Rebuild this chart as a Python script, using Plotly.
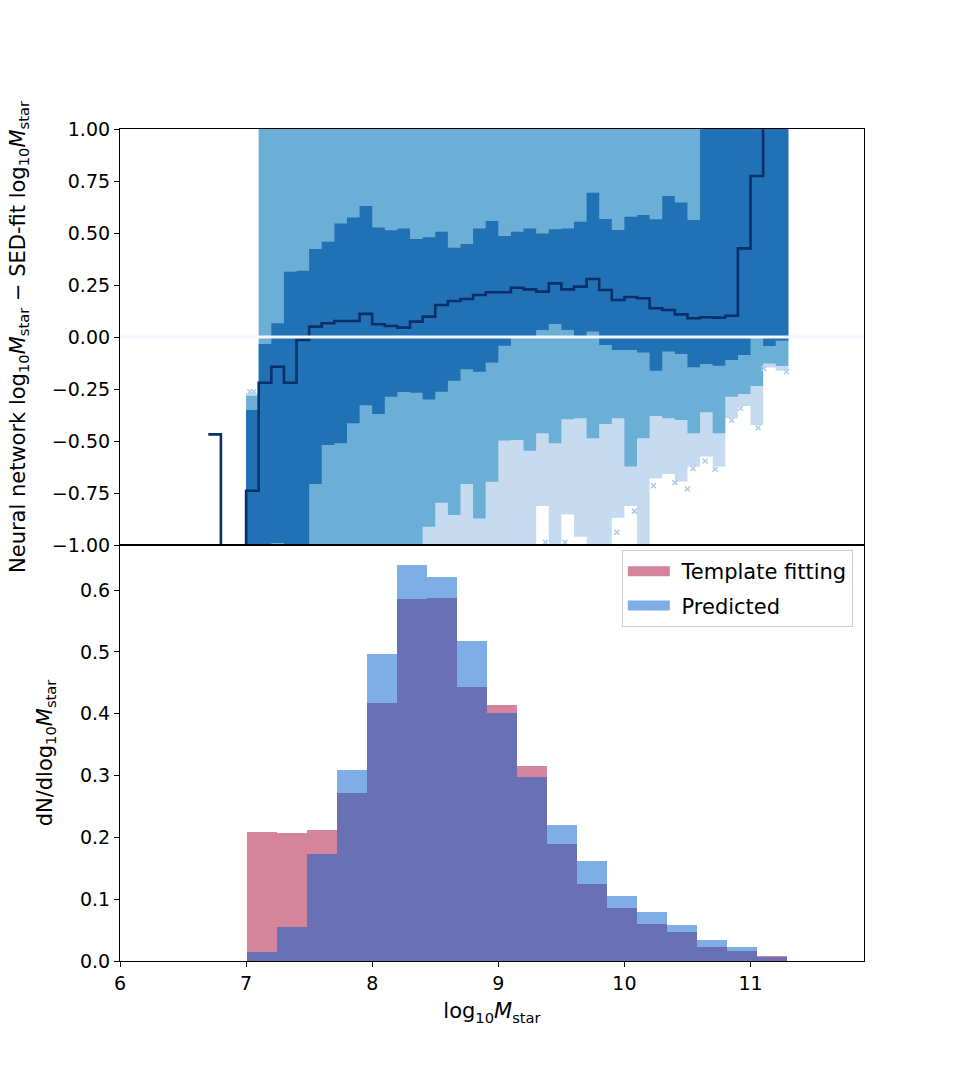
import numpy as np
import plotly.graph_objects as go

# ---------------- data: top panel (residual percentiles per 0.1-dex bin) ----------------
bin_left = [6.7, 6.8, 6.9, 7.0, 7.1, 7.2, 7.3, 7.4, 7.5, 7.6, 7.7, 7.8, 7.9,
            8.0, 8.1, 8.2, 8.3, 8.4, 8.5, 8.6, 8.7, 8.8, 8.9,
            9.0, 9.1, 9.2, 9.3, 9.4, 9.5, 9.6, 9.7, 9.8, 9.9,
            10.0, 10.1, 10.2, 10.3, 10.4, 10.5, 10.6, 10.7, 10.8, 10.9,
            11.0, 11.1, 11.2]
bin_width = 0.1
nan = float("nan")

median = [-0.468, -1.5, -1.5, -0.739, -0.22, -0.143, -0.22, -0.014, 0.050, 0.066, 0.077, 0.077, 0.111,
          0.061, 0.053, 0.045, 0.074, 0.098, 0.154, 0.173, 0.183, 0.202, 0.215,
          0.215, 0.237, 0.229, 0.218, 0.258, 0.229, 0.242, 0.279, 0.226, 0.178,
          0.192, 0.186, 0.138, 0.130, 0.109, 0.090, 0.095, 0.093, 0.102, 0.426,
          0.774, 1.5, 1.5]

# 68% interval
p16 = [nan, nan, nan, -1.5, -1.5, -0.99, -1.5, -1.5, -0.707, -0.519, -0.511, -0.415, -0.328,
       -0.370, -0.287, -0.264, -0.268, -0.300, -0.263, -0.210, -0.155, -0.167, -0.122,
       -0.042, -0.003, -0.003, 0.034, 0.063, 0.034, 0.000, 0.026, -0.038, -0.0625,
       -0.0625, -0.075, -0.162, -0.070, -0.082, -0.146, -0.130, -0.138, -0.111, -0.087,
       -0.003, -0.043, -0.018]
p84 = [nan, nan, nan, -0.351, -0.034, 0.066, 0.314, 0.319, 0.423, 0.458, 0.546, 0.575, 0.630,
       0.527, 0.513, 0.522, 0.471, 0.479, 0.506, 0.429, 0.447, 0.522, 0.558,
       0.486, 0.506, 0.522, 0.498, 0.518, 0.522, 0.554, 0.694, 0.567, 0.514,
       0.578, 0.587, 0.566, 0.678, 0.647, 0.562, 1.5, 1.5, 1.5, 1.5,
       1.5, 1.5, 1.5]

# 95% interval
p025 = [nan, nan, nan, -1.5, -1.5, -1.5, -1.5, -1.5, -1.5, -1.5, -1.5, -1.5, -1.5,
        -1.5, -1.5, -1.5, -1.5, -0.912, -0.797, -0.856, -0.707, -0.872, -0.696,
        -0.498, -0.495, -0.547, -0.463, -0.511, -0.396, -0.391, -0.487, -0.418, -0.391,
        -0.623, -0.487, -0.380, -0.391, -0.399, -0.463, -0.362, -0.463, -0.287, -0.274,
        -0.236, -0.127, -0.139]
p975 = [nan, nan, nan, -0.282] + [1.5] * 42

# 99% interval
p005 = [nan, nan, nan, -1.5, -1.5, -1.5, -1.5, -1.5, -1.5, -1.5, -1.5, -1.5, -1.5,
        -1.5, -1.5, -1.5, -1.5, -1.5, -1.5, -1.5, -1.5, -1.5, -1.5,
        -1.5, -1.5, -1.5, -0.812, -1.5, -0.853, -0.96, -1.5, -1.5, -0.869,
        -0.812, -1.5, -0.68, -0.659, -0.695, -0.623, -0.575, -0.623, -0.391, -0.332,
        -0.423, -0.147, -0.162]
p995 = [nan, nan, nan, -0.27] + [1.5] * 42

# outliers
out_x = [7.03, 7.06, 9.373, 9.53, 9.94, 10.08, 10.23, 10.40, 10.50, 10.545, 10.64,
         10.72, 10.85, 10.92, 11.06, 11.105, 11.285]
out_y = [-0.263, -0.263, -0.987, -0.987, -0.939, -0.837, -0.715, -0.70, -0.731, -0.631,
         -0.596, -0.636, -0.40, -0.343, -0.436, -0.151, -0.167]

# ---------------- data: bottom panel (histograms) ----------------
hist_lo, hist_hi, hist_nbins = 7.01, 11.29, 18
template_fitting = [0.209, 0.2075, 0.212, 0.2717, 0.4167, 0.5855, 0.5866, 0.4437, 0.414,
                    0.3154, 0.1887, 0.124, 0.0852, 0.0604, 0.0474, 0.0232, 0.0162, 0.0081]
predicted = [0.014, 0.0545, 0.1736, 0.309, 0.496, 0.6405, 0.621, 0.5175, 0.4005,
             0.2976, 0.22, 0.1617, 0.1056, 0.0792, 0.0577, 0.034, 0.0221, 0.006]

top_yticks = [1.0, 0.75, 0.5, 0.25, 0.0, -0.25, -0.5, -0.75, -1.0]

# ---------------- helpers ----------------
FONT = "DejaVu Sans"
TICK_FS = 19
TITLE_FS = 21
LEG_FS = 21


def band_polygons(lo, hi):
    """Return x, y lists (runs separated by None) tracing step-shaped bands."""
    left = np.array(bin_left)
    lo = np.array(lo, dtype=float)
    hi = np.array(hi, dtype=float)
    valid = np.isfinite(lo) & np.isfinite(hi)
    xs, ys = [], []
    i = 0
    n = len(left)
    while i < n:
        if not valid[i]:
            i += 1
            continue
        j = i
        while j + 1 < n and valid[j + 1]:
            j += 1
        idx = list(range(i, j + 1))
        px, py = [], []
        for k in idx:
            px += [left[k], left[k] + bin_width]
            py += [hi[k], hi[k]]
        for k in reversed(idx):
            px += [left[k] + bin_width, left[k]]
            py += [lo[k], lo[k]]
        px.append(px[0])
        py.append(py[0])
        if xs:
            xs.append(None)
            ys.append(None)
        xs += list(px)
        ys += list(py)
        i = j + 1
    return xs, ys


fig = go.Figure()

band_specs = [(p005, p995, "#c6dbef"), (p025, p975, "#6baed6"), (p16, p84, "#2171b5")]
for lo, hi, col in band_specs:
    bx, by = band_polygons(lo, hi)
    fig.add_trace(go.Scatter(x=bx, y=by, mode="lines", fill="toself", fillcolor=col,
                             line=dict(width=0, color=col, simplify=False),
                             hoverinfo="skip", showlegend=False, xaxis="x", yaxis="y"))

# median step line
med_x = list(bin_left) + [bin_left[-1] + bin_width]
med_y = list(median) + [median[-1]]
fig.add_trace(go.Scatter(x=med_x, y=med_y, mode="lines",
                         line=dict(color="#08306b", width=2.6, shape="hv", simplify=False),
                         showlegend=False, xaxis="x", yaxis="y"))

# outliers
fig.add_trace(go.Scatter(x=out_x, y=out_y, mode="markers",
                         marker=dict(symbol="x-thin", size=5, color="#aecbe8",
                                     line=dict(width=1.5, color="#aecbe8")),
                         showlegend=False, xaxis="x", yaxis="y", cliponaxis=True))

# histograms
edges = np.linspace(hist_lo, hist_hi, hist_nbins + 1)
centers = 0.5 * (edges[:-1] + edges[1:])
widths = np.diff(edges)
pink = "rgba(169,9,55,0.5)"
blue = "rgba(0,91,205,0.5)"
fig.add_trace(go.Bar(x=centers, y=template_fitting, width=widths, marker=dict(color=pink, line=dict(width=0)),
                     name="Template fitting", showlegend=False, xaxis="x2", yaxis="y2"))
fig.add_trace(go.Bar(x=centers, y=predicted, width=widths, marker=dict(color=blue, line=dict(width=0)),
                     name="Predicted", showlegend=False, xaxis="x2", yaxis="y2"))

# legend entries (thick line swatches)
fig.add_trace(go.Scatter(x=[None], y=[None], mode="lines", line=dict(color=pink, width=14),
                         name="\u00a0Template fitting", legendgroup="a", xaxis="x2", yaxis="y2"))
fig.add_trace(go.Scatter(x=[None], y=[None], mode="lines", line=dict(color=blue, width=14),
                         name="\u00a0Predicted", legendgroup="b", xaxis="x2", yaxis="y2"))

axis_common = dict(showline=True, linecolor="black", linewidth=1.2, mirror=True,
                   showgrid=False, zeroline=False, ticks="outside", ticklen=5,
                   tickwidth=1.2, tickcolor="black",
                   tickfont=dict(family=FONT, size=TICK_FS, color="black"))

fig.update_layout(
    width=960, height=1080,
    margin=dict(l=120, r=96, t=129, b=119),
    paper_bgcolor="white", plot_bgcolor="white",
    barmode="overlay", bargap=0,
    font=dict(family=FONT, size=TICK_FS, color="black"),
    xaxis=dict(axis_common, domain=[0, 1], anchor="y", matches="x2", range=[6, 11.9],
               showticklabels=False, ticks=""),
    yaxis=dict(axis_common, domain=[0.5, 1], anchor="x", range=[-1, 1],
               tickvals=top_yticks,
               ticktext=[("%.2f" % v).replace("-", "\u2212") for v in top_yticks],
               title=dict(text="Neural network log<sub>10</sub><i>M</i><sub>star</sub> \u2212 SED-fit log<sub>10</sub><i>M</i><sub>star</sub>",
                          font=dict(family=FONT, size=TITLE_FS), standoff=20)),
    xaxis2=dict(axis_common, domain=[0, 1], anchor="y2", range=[6, 11.9], dtick=1, tick0=6,
                title=dict(text="log<sub>10</sub><i>M</i><sub>star</sub>",
                           font=dict(family=FONT, size=TITLE_FS), standoff=10)),
    yaxis2=dict(axis_common, domain=[0, 0.5], anchor="x2", range=[0, 0.673], dtick=0.1, tick0=0,
                tickformat=".1f",
                title=dict(text="dN/dlog<sub>10</sub><i>M</i><sub>star</sub>",
                           font=dict(family=FONT, size=TITLE_FS), standoff=21)),
    legend=dict(x=0.985, y=0.494, xanchor="right", yanchor="top",
                bgcolor="rgba(255,255,255,0.8)", bordercolor="#cccccc", borderwidth=1,
                font=dict(family=FONT, size=LEG_FS), itemwidth=42, tracegroupgap=4),
    shapes=[dict(type="line", xref="x domain", yref="y", x0=0, x1=1, y0=0, y1=0,
                 line=dict(color="#f3f6fd", width=3), layer="above")],
)

fig.write_html("out.html")
